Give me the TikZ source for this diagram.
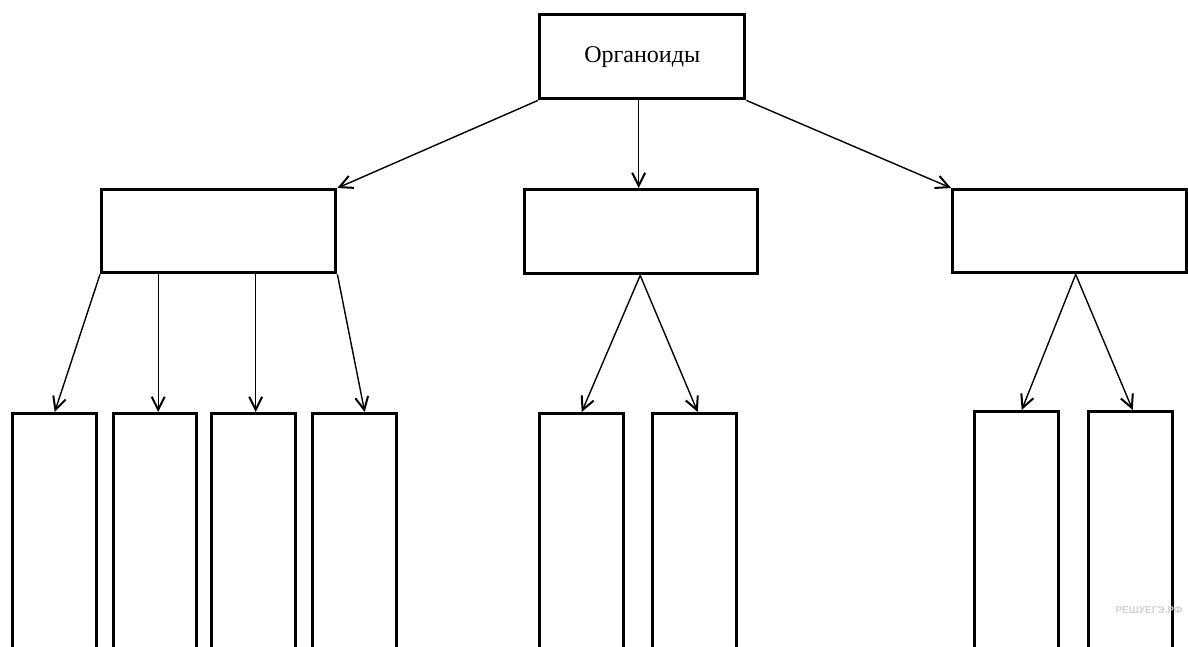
\documentclass[tikz,border=0pt]{standalone}
\usepackage{fontspec}
\setmainfont{Liberation Serif}
\newfontfamily\wmfont{Liberation Sans}
\usetikzlibrary{arrows.meta,calc}
\tikzset{
  box/.style={draw=black, line width=3.4pt, fill=white, inner sep=0pt},
  wide/.style={box, minimum width=234pt, minimum height=83pt, anchor=north west},
  tall/.style={box, minimum width=84pt, minimum height=260pt, anchor=north west},
  arr/.style={draw=black, line width=1.4pt, -{Straight Barb[length=13pt,width=13pt,line width=2pt]}},
}
\begin{document}
\begin{tikzpicture}[x=1pt,y=-1pt]
\useasboundingbox (0,0) rectangle (1188,646);
\clip (0,0) rectangle (1188,646);
\fill[white] (0,0) rectangle (1188,646);
% top
\node[box, minimum width=205pt, minimum height=84pt, anchor=north west] (top) at (538,13) {\fontsize{24pt}{28pt}\selectfont Органоиды};
% middle row
\node[wide] (l) at (100,188) {};
\node[wide, minimum width=233pt, minimum height=84pt] (m) at (523,188) {};
\node[wide] (r) at (951,188) {};
% bottom row
\node[tall] (b1) at (11,412) {};
\node[tall, minimum width=83pt] (b2) at (112,412) {};
\node[tall] (b3) at (210,412) {};
\node[tall] (b4) at (311,412) {};
\node[tall] (b5) at (538,412) {};
\node[tall] (b6) at (651,412) {};
\node[tall] (b7) at (973,410) {};
\node[tall] (b8) at (1087,410) {};
% arrows top
\draw[arr] (top.south west) -- (l.north east);
\draw[arr] ($(m.north |- top.south)+(-2.5,0)$) -- ($(m.north)+(-2.5,0)$);
\draw[arr] (top.south east) -- (r.north west);
% arrows left
\draw[arr] (l.south west) -- (b1.north);
\draw[arr] ($(b2.north |- l.south)+(3,0)$) -- ($(b2.north)+(3,0)$);
\draw[arr] ($(b3.north |- l.south)+(2,0)$) -- ($(b3.north)+(2,0)$);
\draw[arr] (l.south east) -- ($(b4.north)+(10,0)$);
% arrows middle
\draw[arr] ($(m.south)+(-1,0)$) -- (b5.north);
\draw[arr] ($(m.south)+(-1,0)$) -- ($(b6.north)+(3,0)$);
% arrows right
\draw[arr] ($(r.south)+(6,0)$) -- ($(b7.north)+(5,0)$);
\draw[arr] ($(r.south)+(6,0)$) -- ($(b8.north)+(2,0)$);
% watermark
\node[text=black!18, font=\wmfont\bfseries\fontsize{10pt}{11pt}\selectfont, anchor=east] (wm) at (1186,610) {РЕШУЕГЭ.РФ};
\end{tikzpicture}
\end{document}
